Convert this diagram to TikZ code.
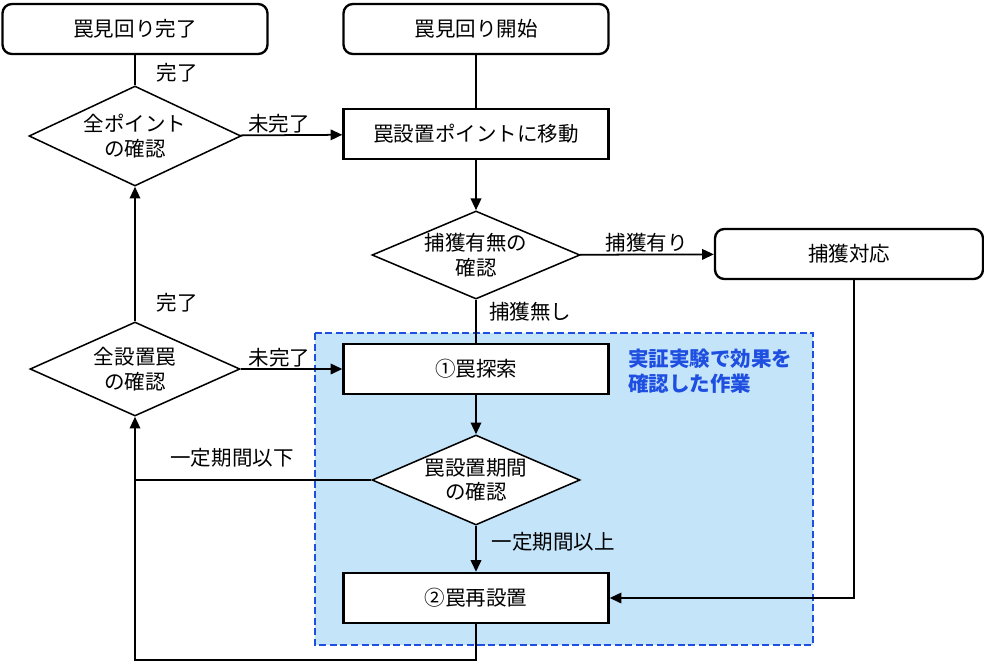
\documentclass[tikz,border=0pt]{standalone}
\usepackage{fontspec}
\setmainfont{Noto Sans CJK JP}
\usetikzlibrary{shapes.geometric,arrows.meta}
\definecolor{regfill}{HTML}{C4E4FA}
\definecolor{regline}{HTML}{1F4FE0}
\begin{document}
\begin{tikzpicture}[x=0.03cm,y=-0.03cm,font=\fontsize{17.5}{21}\selectfont,
  box/.style={draw,line width=2pt,minimum width=265*0.03cm,minimum height=50*0.03cm,inner sep=0pt},
  rbox/.style={box,rounded corners=8pt},
  dia/.style={draw,line width=1.3pt,diamond,aspect=2.3,inner sep=0pt,align=center,fill=white},
  ln/.style={line width=1.5pt},
  ar/.style={ln,-{Triangle[length=10pt,width=9pt]}},
  lab/.style={inner sep=1pt}]
\useasboundingbox (0,0) rectangle (984,665);
\fill[regfill] (315,333) rectangle (813,645);
\draw[regline,dash pattern=on 6pt off 3pt,line width=2pt] (315,333) rectangle (813,645);
\node[rbox,fill=white] (end) at (135,29) {罠見回り完了};
\node[rbox,fill=white] (start) at (476,29) {罠見回り開始};
\node[dia,minimum width=212*0.03cm,minimum height=100*0.03cm] (d1) at (135,136) {全ポイント\\の確認};
\node[box,fill=white] (move) at (476,134) {罠設置ポイントに移動};
\node[dia,minimum width=208*0.03cm,minimum height=88*0.03cm] (d2) at (476,255) {捕獲有無の\\確認};
\node[rbox,fill=white,minimum width=268*0.03cm] (cap) at (849,254) {捕獲対応};
\node[box,fill=white] (s1) at (476,369) {①罠探索};
\node[dia,minimum width=210*0.03cm,minimum height=94*0.03cm] (d3) at (135,369) {全設置罠\\の確認};
\node[dia,minimum width=208*0.03cm,minimum height=90*0.03cm] (d4) at (476,480) {罠設置期間\\の確認};
\node[box,fill=white] (s2) at (476,598) {②罠再設置};
\node[text=regline,font=\fontsize{17.5}{21}\selectfont\bfseries,align=left,anchor=north west] (note) at (624,345) {実証実験で効果を\\確認した作業};
\draw[ln] (end) -- (d1);
\draw[ar] (d1) -- (move) node[lab,pos=0.38,above] {未完了};
\node[lab] at (177,73) {完了};
\draw[ln] (start) -- (move);
\draw[ar] (move) -- (d2);
\draw[ar] (d2) -- (cap) node[lab,midway,above] {捕獲有り};
\draw[ln] (d2) -- (s1);
\node[lab] at (530,312) {捕獲無し};
\draw[ar] (d3) -- (d1);
\node[lab] at (177,303) {完了};
\draw[ar] (d3) -- (s1) node[lab,pos=0.38,above] {未完了};
\draw[ar] (s1) -- (d4);
\coordinate (c1) at (135,480);
\draw[ar] (d4.west) -- (c1) -- (d3.south);
\node[lab] at (232,458) {一定期間以下};
\draw[ar] (d4) -- (s2);
\node[lab] at (553,542) {一定期間以上};
\coordinate (c2) at (854,598);
\draw[ar] (cap.south -| c2) -- (c2) -- (s2.east);
\coordinate (c3) at (476,660);
\coordinate (c4) at (135,660);
\draw[ln] (s2.south) -- (c3) -- (c4) -- (c1);
\end{tikzpicture}
\end{document}
